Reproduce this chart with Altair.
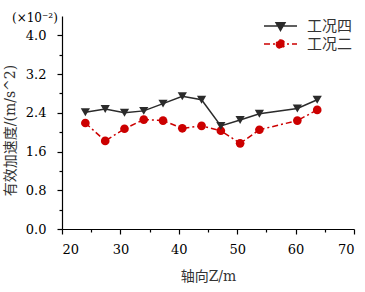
import altair as alt
import pandas as pd

z = [24.0, 27.4, 30.7, 34.0, 37.3, 40.6, 43.9, 47.2, 50.5, 53.8, 60.3, 63.7]
case4 = [2.41, 2.48, 2.40, 2.44, 2.59, 2.74, 2.67, 2.13, 2.25, 2.38, 2.49, 2.67]
case2 = [2.19, 1.82, 2.07, 2.26, 2.24, 2.08, 2.13, 2.03, 1.77, 2.05, 2.24, 2.46]
series_names = ["工况四", "工况二"]
series_colors = ["#2b2b2b", "#cc0000"]
y_ticks = [0.0, 0.4, 0.8, 1.2, 1.6, 2.0, 2.4, 2.8, 3.2, 3.6, 4.0]
x_ticks = [20, 25, 30, 35, 40, 45, 50, 55, 60, 65, 70]

rows = []
for name, vals in zip(series_names, [case4, case2]):
    for x, v in zip(z, vals):
        rows.append({"z": x, "v": v, "series": name})
df = pd.DataFrame(rows)

FONT_LAT = "DejaVu Serif"
FONT_CJK = "DejaVu Serif, Noto Sans CJK SC"

xenc = alt.X("z:Q", scale=alt.Scale(domain=[20, 70], nice=False),
             axis=alt.Axis(title="轴向Z/m", values=x_ticks,
                           labelExpr="datum.value % 10 == 0 ? format(datum.value, 'd') : ''",
                           tickSize={"condition": {"test": "datum.value % 10 != 0", "value": 3}, "value": 5},
                           labelFont=FONT_LAT, labelFontSize=13, labelColor="#000000",
                           titleFont=FONT_CJK, titleFontSize=14, titleColor="#333333", titleFontWeight="normal",
                           labelPadding=9, titleY=40, titleBaseline="top"))
yenc = alt.Y("v:Q", scale=alt.Scale(domain=[0, 4.4], nice=False),
             axis=alt.Axis(title="有效加速度/(m/s^2)", values=y_ticks,
                           labelExpr="round(datum.value*10) % 8 == 0 ? format(datum.value, '.1f') : ''",
                           tickSize={"condition": {"test": "round(datum.value*10) % 8 != 0", "value": 3}, "value": 5},
                           labelFont=FONT_LAT, labelFontSize=13, labelColor="#000000",
                           titleFont=FONT_CJK, titleFontSize=14, titleColor="#333333", titleFontWeight="normal",
                           labelPadding=11, titleX=-45, titleY=114))

dash_scale = alt.Scale(domain=series_names, range=[[1, 0], [6, 3, 2, 3]])

base = alt.Chart(df)

line4 = base.transform_filter(alt.datum.series == series_names[0]).mark_line(
    strokeWidth=1.5, color=series_colors[0]).encode(x=xenc, y=yenc)
line2 = base.transform_filter(alt.datum.series == series_names[1]).mark_line(
    strokeWidth=1.5, color=series_colors[1], strokeDash=[6, 3, 2, 3]).encode(x=xenc, y=yenc)
tri = base.transform_filter(alt.datum.series == series_names[0]).mark_point(
    shape="triangle-down", filled=True, size=85, opacity=1, color=series_colors[0]).encode(x=xenc, y=yenc)
circ = base.transform_filter(alt.datum.series == series_names[1]).mark_point(
    shape="circle", filled=True, size=75, opacity=1, color=series_colors[1]).encode(x=xenc, y=yenc)

tri_path = "M-1,0H1M-0.27,-0.2L0.27,-0.2L0,0.27Z"
circ_path = "M-1,0H1M-0.25,0A0.25,0.25 0 1,0 0.25,0A0.25,0.25 0 1,0 -0.25,0Z"

leg = alt.Legend(title=None, orient="none", legendX=201, legendY=1,
                 symbolSize=1089, clipHeight=18, labelOffset=9,
                 labelFont=FONT_CJK, labelFontSize=15, labelColor="#333333",
                 padding=0, rowPadding=0, symbolStrokeWidth=1.5, symbolOpacity=1)

legend_layer = base.mark_point(filled=True, strokeWidth=1.5, size=0).encode(
    x=xenc, y=yenc,
    fill=alt.Fill("series:N", scale=alt.Scale(domain=series_names, range=series_colors), legend=leg),
    stroke=alt.Stroke("series:N", scale=alt.Scale(domain=series_names, range=series_colors), legend=leg),
    shape=alt.Shape("series:N", scale=alt.Scale(domain=series_names, range=[tri_path, circ_path]), legend=leg),
    strokeDash=alt.StrokeDash("series:N", scale=dash_scale, legend=leg),
)

chart = alt.layer(line2, line4, circ, tri, legend_layer).properties(
    width=292, height=213,
    autosize=alt.AutoSizeParams(type="none"),
    padding={"left": 62, "top": 16, "right": 11, "bottom": 63},
    title=alt.TitleParams(text="(×10⁻²)", anchor="start", frame="group", dx=-50, dy=9,
                          font=FONT_LAT, fontSize=12, fontWeight="normal", color="#000000", offset=0),
).configure_view(stroke=None).configure_axis(
    grid=False, domainColor="#000000", tickColor="#000000", domainWidth=1.2, tickWidth=1.2,
)

chart.save("out.html", embed_options={"renderer": "svg", "actions": False})
